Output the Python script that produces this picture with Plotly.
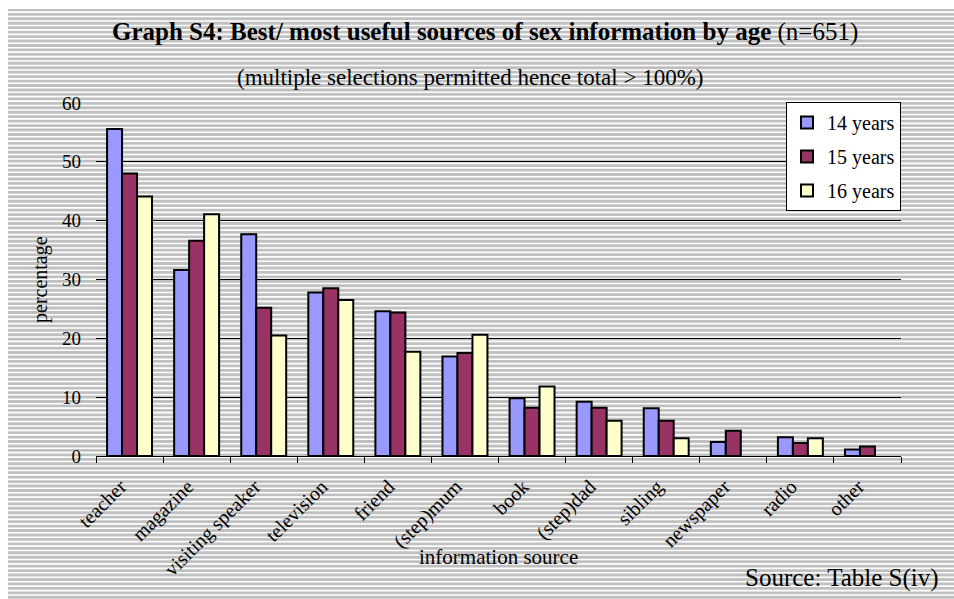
import plotly.graph_objects as go

categories = ["teacher", "magazine", "visiting speaker", "television", "friend",
              "(step)mum", "book", "(step)dad", "sibling", "newspaper", "radio", "other"]
age14 = [55.6, 31.6, 37.7, 27.8, 24.6, 16.9, 9.8, 9.2, 8.1, 2.4, 3.2, 1.1]
age15 = [48.0, 36.6, 25.2, 28.5, 24.4, 17.5, 8.2, 8.2, 6.0, 4.3, 2.2, 1.6]
age16 = [44.1, 41.1, 20.5, 26.5, 17.7, 20.6, 11.8, 6.0, 3.0, 0.0, 3.0, 0.0]
series_names = ["14 years", "15 years", "16 years"]
colors = ["#9999FF", "#993366", "#FFFFCC"]
y_ticks = [0, 10, 20, 30, 40, 50, 60]

W, H = 954, 599
L, R, T, B = 96, 901, 103, 456
FONT = "Liberation Serif"

def px(x):
    return (x - L) / (R - L)

def py(y):
    return (B - y) / (B - T)

fig = go.Figure()
for name, vals, col in zip(series_names, [age14, age15, age16], colors):
    fig.add_trace(go.Bar(
        x=categories, y=[v if v > 0 else None for v in vals], name=name, legendgroup=name,
        marker=dict(color=col, line=dict(color="black", width=2)),
    ))

# striped background
shapes = [dict(type="rect", xref="paper", yref="paper",
               x0=px(8), x1=px(W + 5), y0=py(9), y1=py(H + 5),
               fillcolor="#C0C0C0", line=dict(width=0), layer="below")]
path = []
yy = 9 + 3.1
while yy < H + 2:
    path.append(f"M{px(8)},{py(yy)} L{px(W + 5)},{py(yy)}")
    yy += 4.45
shapes.append(dict(type="path", xref="paper", yref="paper", path=" ".join(path),
                   line=dict(color="white", width=1.6), layer="below"))

annotations = [
    dict(text="<b>Graph S4: Best/ most useful sources of sex information by age</b> (n=651)",
         x=px(485), y=py(32), xref="paper", yref="paper", showarrow=False,
         xanchor="center", yanchor="middle", font=dict(size=25, color="black", family=FONT)),
    dict(text="(multiple selections permitted hence total > 100%)",
         x=px(470), y=py(77), xref="paper", yref="paper", showarrow=False,
         xanchor="center", yanchor="middle", font=dict(size=23, color="black", family=FONT)),
    dict(text="information source",
         x=px(498), y=py(557), xref="paper", yref="paper", showarrow=False,
         xanchor="center", yanchor="middle", font=dict(size=21, color="black", family=FONT)),
    dict(text="percentage", textangle=-90,
         x=px(40), y=py(280), xref="paper", yref="paper", showarrow=False,
         xanchor="center", yanchor="middle", font=dict(size=20, color="black", family=FONT)),
    dict(text="Source: Table S(iv)",
         x=px(941), y=py(578), xref="paper", yref="paper", showarrow=False,
         xanchor="right", yanchor="middle", font=dict(size=25, color="black", family=FONT)),
]

fig.update_layout(
    width=W, height=H,
    margin=dict(l=L, r=W - R, t=T, b=H - B, pad=0),
    paper_bgcolor="white", plot_bgcolor="rgba(0,0,0,0)",
    barmode="group", bargap=0.33, bargroupgap=0,
    font=dict(family=FONT, color="black", size=18),
    shapes=shapes, annotations=annotations,
    legend=dict(x=px(786), y=py(102), xanchor="left", yanchor="top",
                bgcolor="white", bordercolor="black", borderwidth=1,
                font=dict(size=20, family=FONT, color="black"),
                tracegroupgap=5, itemwidth=30),
    showlegend=True,
)
fig.update_xaxes(showline=True, linecolor="black", linewidth=1,
                 ticks="outside", ticklen=6, tickcolor="black", tickson="boundaries",
                 tickangle=-45, tickfont=dict(size=20, family=FONT, color="black"),
                 ticklabelstandoff=10, ticklabelshift=-9, showgrid=False, zeroline=False)
fig.update_yaxes(range=[0, 60], tickvals=y_ticks, showgrid=True, gridcolor="black",
                 gridwidth=1, showline=False, zeroline=False, ticks="",
                 tickfont=dict(size=19, family=FONT, color="black"), ticklabelstandoff=14)

fig.write_html("out.html")
